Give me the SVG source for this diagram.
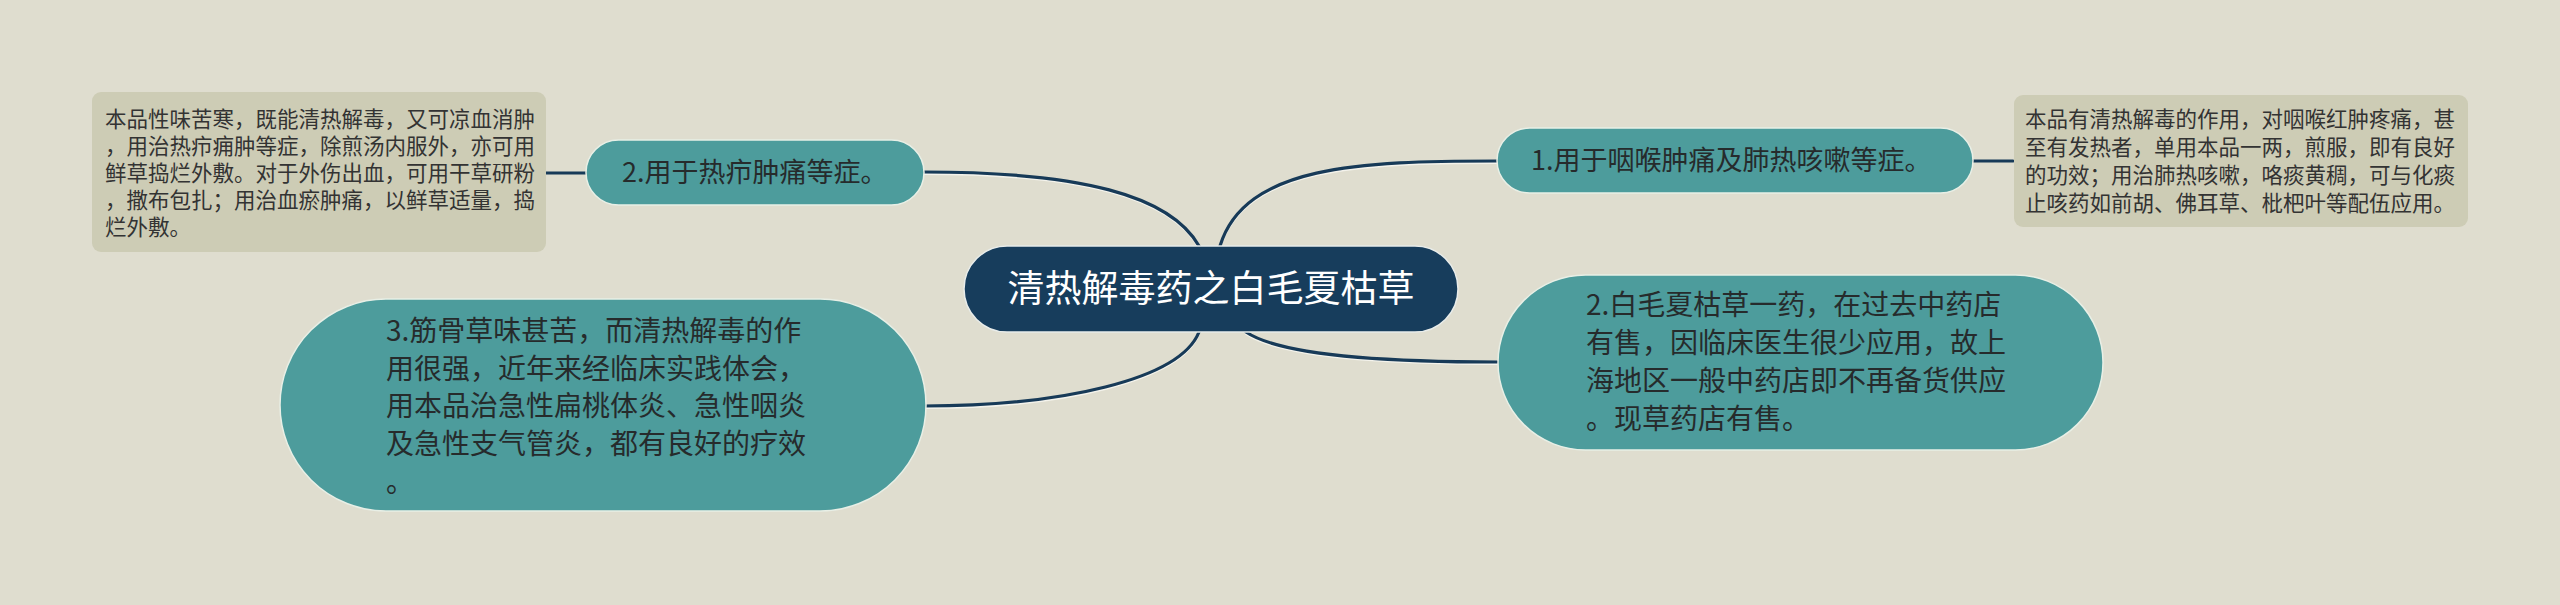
<svg xmlns="http://www.w3.org/2000/svg" width="2560" height="605" viewBox="0 0 2560 605">
<style>
.bg{fill:#dfddcf}
.note{fill:#cdccb5}
.notetxt{font-family:"Noto Sans CJK SC","Noto Sans",sans-serif;font-size:21.5px;fill:#333333}
.topic{fill:#4d9c9c;stroke:#e8efe6;stroke-width:1.5}
.topictxt{font-family:"Noto Sans CJK SC","Noto Sans",sans-serif;fill:#262b2c}
.center{fill:#173d5c;stroke:#e8ecea;stroke-width:1.5}
.centertxt{font-family:"Noto Sans CJK SC","Noto Sans",sans-serif;font-size:37px;fill:#ffffff}
.conn{fill:none;stroke:#173a58;stroke-width:3.2;stroke-linecap:round}
.connhl{fill:none;stroke:#f4f3ec;stroke-width:2;stroke-linecap:round}
</style>
<rect class="bg" x="0" y="0" width="2560" height="605"/>
<g id="connectors">
<g transform="translate(0,2)">
<path class="connhl" d="M924,172 C1080,172 1170,195 1199,246"/>
<path class="connhl" d="M1497,161 C1360,161 1245,165 1220,246"/>
<path class="connhl" d="M1199,332 C1180,380 1060,406 924,406"/>
<path class="connhl" d="M1246,332 C1280,355 1380,362 1497,362"/>
</g>
<path class="conn" d="M924,172 C1080,172 1170,195 1199,246"/>
<path class="conn" d="M1497,161 C1360,161 1245,165 1220,246"/>
<path class="conn" d="M1199,332 C1180,380 1060,406 924,406"/>
<path class="conn" d="M1246,332 C1280,355 1380,362 1497,362"/>
<path class="conn" d="M546,173 L586,173"/>
<path class="conn" d="M1973,161 L2013,161"/>
</g>
<g id="center">
<rect class="center" x="964" y="246" width="494" height="86" rx="43" ry="43"/>
<text class="centertxt" x="1211" y="302" text-anchor="middle">清热解毒药之白毛夏枯草</text>
</g>
<g id="node-left-1">
<rect class="topic" x="586" y="140" width="338" height="65" rx="32.5" ry="32.5"/>
<text class="topictxt" x="622" y="182" font-size="27">2.用于热疖肿痛等症。</text>
</g>
<g id="note-left-1">
<rect class="note" x="92" y="92" width="454" height="160" rx="9" ry="9"/>
<text class="notetxt">
<tspan x="105" y="127">本品性味苦寒，既能清热解毒，又可凉血消肿</tspan>
<tspan x="105" y="154">，用治热疖痈肿等症，除煎汤内服外，亦可用</tspan>
<tspan x="105" y="181">鲜草捣烂外敷。对于外伤出血，可用干草研粉</tspan>
<tspan x="105" y="208">，撒布包扎；用治血瘀肿痛，以鲜草适量，捣</tspan>
<tspan x="105" y="235">烂外敷。</tspan>
</text>
</g>
<g id="node-right-1">
<rect class="topic" x="1497" y="128" width="476" height="65" rx="32.5" ry="32.5"/>
<text class="topictxt" x="1531" y="170" font-size="27">1.用于咽喉肿痛及肺热咳嗽等症。</text>
</g>
<g id="note-right-1">
<rect class="note" x="2014" y="95" width="454" height="132" rx="9" ry="9"/>
<text class="notetxt">
<tspan x="2025" y="127">本品有清热解毒的作用，对咽喉红肿疼痛，甚</tspan>
<tspan x="2025" y="155">至有发热者，单用本品一两，煎服，即有良好</tspan>
<tspan x="2025" y="183">的功效；用治肺热咳嗽，咯痰黄稠，可与化痰</tspan>
<tspan x="2025" y="211">止咳药如前胡、佛耳草、枇杷叶等配伍应用。</tspan>
</text>
</g>
<g id="node-right-2">
<rect class="topic" x="1498" y="275" width="605" height="175" rx="87.5" ry="87.5"/>
<text class="topictxt" font-size="28">
<tspan x="1586" y="315">2.白毛夏枯草一药，在过去中药店</tspan>
<tspan x="1586" y="353">有售，因临床医生很少应用，故上</tspan>
<tspan x="1586" y="391">海地区一般中药店即不再备货供应</tspan>
<tspan x="1586" y="429">。现草药店有售。</tspan>
</text>
</g>
<g id="node-left-2">
<rect class="topic" x="280" y="299" width="646" height="212" rx="106" ry="106"/>
<text class="topictxt" font-size="28">
<tspan x="386" y="341">3.筋骨草味甚苦，而清热解毒的作</tspan>
<tspan x="386" y="379">用很强，近年来经临床实践体会，</tspan>
<tspan x="386" y="416">用本品治急性扁桃体炎、急性咽炎</tspan>
<tspan x="386" y="454">及急性支气管炎，都有良好的疗效</tspan>
<tspan x="386" y="492">。</tspan>
</text>
</g>
</svg>
